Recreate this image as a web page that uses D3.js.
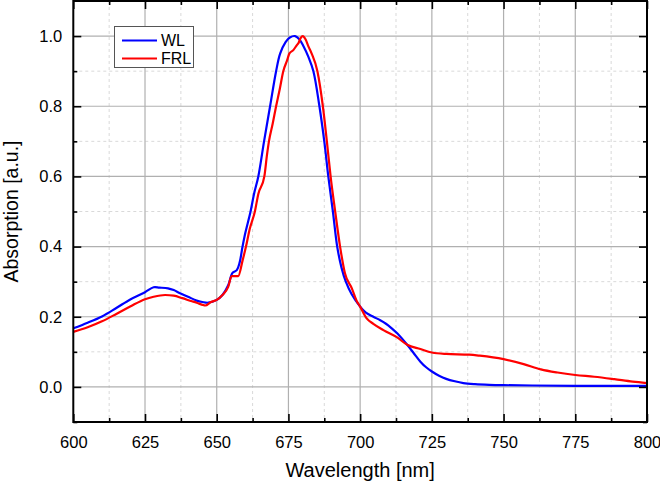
<!DOCTYPE html>
<html><head><meta charset="utf-8">
<script src="https://cdn.jsdelivr.net/npm/d3@7"></script>
<style>body{margin:0;background:#fff}svg{display:block}text{font-family:"Liberation Sans",Arial,sans-serif}</style>
</head><body><svg id="c" width="660" height="482"></svg>
<script>
const xTicks = [600, 625, 650, 675, 700, 725, 750, 775, 800];
const yTicks = [0.0, 0.2, 0.4, 0.6, 0.8, 1.0];
const seriesNames = ["WL", "FRL"];
const wlX = [600,605,610,615,620,625,628,630,633,635,637,640,643,645,647,650,652,654,655.5,657,658,659,660,661.8,663,664.5,666.5,668.6,670.7,672.1,674,675.5,677.3,678.7,680.2,682,683.7,685.8,687.5,688.9,690.5,692,693.5,695,697,700,702,704.6,707,709,711,713,716.4,718.7,721,723,725,727.5,730,733,736,740,745,750,760,775,800];
const wlY = [0.167,0.183,0.201,0.225,0.250,0.270,0.284,0.283,0.281,0.276,0.268,0.257,0.246,0.242,0.240,0.248,0.262,0.290,0.325,0.333,0.355,0.400,0.440,0.500,0.550,0.600,0.700,0.800,0.900,0.950,0.983,0.996,1.000,0.992,0.972,0.940,0.900,0.800,0.700,0.600,0.500,0.400,0.340,0.300,0.265,0.229,0.212,0.200,0.190,0.180,0.167,0.152,0.120,0.096,0.072,0.056,0.044,0.032,0.023,0.016,0.011,0.008,0.006,0.005,0.004,0.003,0.003];
const frlX = [600,605,610,615,620,625,628,632,635,638,641,643,645,646,648,650,652,654,655.2,657.5,659,660.2,661.5,663.3,664.5,666.6,667.5,668.2,669.5,670.7,672,673.2,674.5,675.3,676.7,678,678.5,679.3,680,681,682,683.1,685.1,687,688.4,689.7,691.3,693,694.7,697.1,698.8,700,702.2,704.6,708.1,712.9,716.4,721,725,730,738,741.7,750,757,763,768.8,775,781.6,788.6,795,800];
const frlY = [0.157,0.170,0.187,0.208,0.230,0.250,0.257,0.262,0.260,0.253,0.245,0.240,0.234,0.232,0.242,0.248,0.262,0.285,0.316,0.316,0.360,0.400,0.450,0.500,0.550,0.600,0.660,0.700,0.750,0.800,0.850,0.900,0.930,0.950,0.960,0.975,0.980,0.995,1.000,0.990,0.970,0.950,0.900,0.800,0.700,0.600,0.500,0.400,0.324,0.281,0.245,0.229,0.196,0.180,0.162,0.141,0.120,0.108,0.098,0.094,0.092,0.089,0.079,0.065,0.050,0.041,0.034,0.029,0.022,0.015,0.011];
const colors = ["#0000ff", "#ff0000"];

const svg = d3.select("#c");
const L = 73.3, R = 647, T = 1, B = 422;
const x = d3.scaleLinear().domain([600, 800]).range([L, R]);
const y = d3.scaleLinear().domain([-0.1, 1.1]).range([B, T]);

const xMinor = d3.range(612.5, 800, 25);
const yMinor = [0.1, 0.3, 0.5, 0.7, 0.9];

const g = svg.append("g");
g.selectAll(".mgx").data(xMinor).join("line").attr("x1", d => x(d)).attr("x2", d => x(d)).attr("y1", T).attr("y2", B)
  .attr("stroke", "#d9d9d9").attr("stroke-width", 1).attr("stroke-dasharray", "3,3");
g.selectAll(".mgy").data(yMinor).join("line").attr("y1", d => y(d)).attr("y2", d => y(d)).attr("x1", L).attr("x2", R)
  .attr("stroke", "#d9d9d9").attr("stroke-width", 1).attr("stroke-dasharray", "3,3");
g.selectAll(".gx").data(xTicks.slice(1, -1)).join("line").attr("x1", d => x(d)).attr("x2", d => x(d)).attr("y1", T).attr("y2", B)
  .attr("stroke", "#b0b0b0").attr("stroke-width", 1.2);
g.selectAll(".gy").data(yTicks).join("line").attr("y1", d => y(d)).attr("y2", d => y(d)).attr("x1", L).attr("x2", R)
  .attr("stroke", "#b0b0b0").attr("stroke-width", 1.2);

const lineSmooth = d3.line().x(d => x(d[0])).y(d => y(d[1])).curve(d3.curveCatmullRom.alpha(0.5));
const lineRough = d3.line().x(d => x(d[0])).y(d => y(d[1])).curve(d3.curveMonotoneX);
const wlData = wlX.map((v, i) => [v, wlY[i]]);
const frlData = frlX.map((v, i) => [v, frlY[i]]);
svg.append("path").datum(wlData).attr("d", lineSmooth).attr("fill", "none").attr("stroke", colors[0]).attr("stroke-width", 2.2);
svg.append("path").datum(frlData).attr("d", lineRough).attr("fill", "none").attr("stroke", colors[1]).attr("stroke-width", 2.2);

const ax = svg.append("g").attr("transform", `translate(0,${B})`);
ax.call(d3.axisBottom(x).tickValues(xTicks).tickSize(-8).tickPadding(14).tickFormat(d3.format("d")));
ax.append("g").call(d3.axisBottom(x).tickValues(xMinor).tickSize(-4).tickFormat(""));
const ay = svg.append("g").attr("transform", `translate(${L},0)`);
ay.call(d3.axisLeft(y).tickValues(yTicks).tickSize(-8).tickPadding(11).tickFormat(d3.format(".1f")));
ay.append("g").call(d3.axisLeft(y).tickValues([-0.1].concat(yMinor)).tickSize(-4).tickFormat(""));
const at = svg.append("g").attr("transform", `translate(0,${T})`);
at.call(d3.axisTop(x).tickValues(xTicks).tickSize(-8).tickFormat(""));
at.append("g").call(d3.axisTop(x).tickValues(xMinor).tickSize(-4).tickFormat(""));
const ar = svg.append("g").attr("transform", `translate(${R},0)`);
ar.call(d3.axisRight(y).tickValues(yTicks).tickSize(-8).tickFormat(""));
ar.append("g").call(d3.axisRight(y).tickValues([-0.1].concat(yMinor)).tickSize(-4).tickFormat(""));
svg.selectAll(".domain").remove();
svg.selectAll(".tick line").attr("stroke", "#000").attr("stroke-width", 1.6);
svg.selectAll(".tick text").attr("font-size", 16.5).attr("fill", "#000").attr("font-family", '"Liberation Sans",Arial,sans-serif');
svg.append("rect").attr("x", L).attr("y", T).attr("width", R - L).attr("height", B - T)
  .attr("fill", "none").attr("stroke", "#000").attr("stroke-width", 2);

svg.append("text").attr("x", (L + R) / 2).attr("y", 477).attr("text-anchor", "middle").attr("font-size", 20).text("Wavelength [nm]");
svg.append("text").attr("transform", `translate(17.5,${(T + B) / 2}) rotate(-90)`).attr("text-anchor", "middle").attr("font-size", 19.5).text("Absorption [a.u.]");

const lg = svg.append("g");
lg.append("rect").attr("x", 114.5).attr("y", 26.5).attr("width", 79).attr("height", 41).attr("fill", "#fff").attr("stroke", "#555").attr("stroke-width", 1);
seriesNames.forEach((n, i) => {
  const yy = 40.5 + i * 18;
  lg.append("line").attr("x1", 122).attr("x2", 157).attr("y1", yy).attr("y2", yy).attr("stroke", colors[i]).attr("stroke-width", 2.2);
  lg.append("text").attr("x", 161).attr("y", yy + 5.8).attr("font-size", 16).text(n);
});
</script></body></html>
